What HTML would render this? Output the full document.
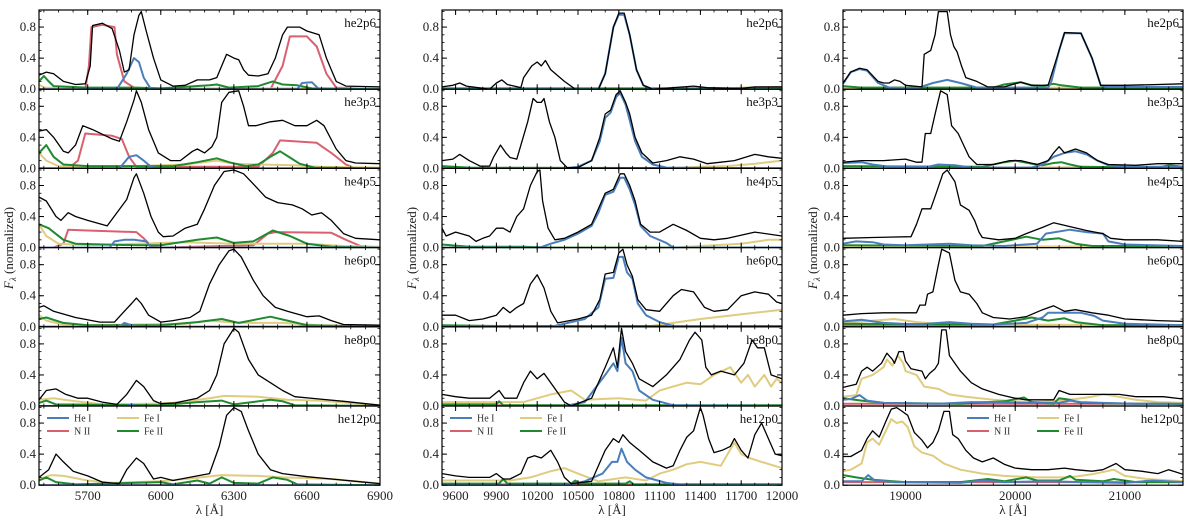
<!DOCTYPE html>
<html><head><meta charset="utf-8"><style>
html,body{margin:0;padding:0;background:#fff;}
svg{display:block;font-family:"Liberation Serif","DejaVu Serif",serif;}
</style></head><body>
<svg id="chart" width="1200" height="520" viewBox="0 0 1200 520" xmlns="http://www.w3.org/2000/svg"></svg>
<script>
// ---- data ----
const models = ["he2p6","he3p3","he4p5","he6p0","he8p0","he12p0"];
const colRanges = [[5500,6900],[9500,12000],[18430,21530]];
const colTicks = [[5700,6000,6300,6600,6900],[9600,9900,10200,10500,10800,11100,11400,11700,12000],[19000,20000,21000]];
const yTicks = [0.0,0.4,0.8];
const seriesNames = ["black","He I","N II","Fe I","Fe II"];
// col 1
const c1black = [
[[5500,.18],[5530,.22],[5560,.2],[5600,.1],[5650,.06],[5690,.07],[5710,.3],[5720,.82],[5760,.85],[5800,.78],[5830,.5],[5850,.22],[5870,.25],[5890,.7],[5910,.95],[5920,1.0],[5940,.75],[5970,.4],[6000,.12],[6050,.04],[6100,.05],[6150,.12],[6200,.12],[6230,.15],[6250,.3],[6270,.45],[6300,.4],[6320,.38],[6340,.25],[6360,.18],[6400,.17],[6440,.2],[6470,.4],[6500,.7],[6520,.8],[6570,.8],[6600,.75],[6650,.7],[6680,.4],[6720,.1],[6760,.04],[6900,.03]],
[[5500,.48],[5530,.5],[5560,.4],[5600,.22],[5620,.2],[5650,.3],[5680,.55],[5720,.5],[5800,.38],[5830,.35],[5860,.6],[5890,.88],[5900,1.0],[5920,.85],[5950,.5],[5990,.2],[6040,.1],[6080,.1],[6130,.22],[6150,.25],[6180,.2],[6210,.28],[6230,.4],[6250,.85],[6280,.98],[6320,1.0],[6340,.8],[6360,.55],[6390,.55],[6450,.6],[6500,.62],[6550,.55],[6600,.55],[6640,.62],[6670,.55],[6720,.25],[6760,.1],[6800,.07],[6900,.06]],
[[5500,.65],[5530,.6],[5570,.4],[5590,.35],[5620,.45],[5650,.4],[5700,.35],[5780,.28],[5820,.45],[5860,.62],[5890,.9],[5900,.95],[5930,.7],[5960,.4],[5990,.2],[6010,.14],[6050,.15],[6100,.25],[6150,.3],[6180,.5],[6220,.8],[6260,.98],[6300,1.0],[6340,.95],[6380,.82],[6430,.65],[6480,.58],[6540,.55],[6580,.5],[6620,.42],[6660,.45],[6700,.35],[6750,.18],[6800,.12],[6900,.1]],
[[5500,.25],[5520,.27],[5560,.2],[5650,.12],[5750,.06],[5810,.06],[5850,.2],[5880,.3],[5900,.37],[5920,.3],[5950,.15],[6000,.06],[6050,.08],[6120,.12],[6160,.2],[6200,.55],[6240,.8],[6280,.98],[6300,1.0],[6330,.9],[6380,.6],[6420,.4],[6470,.25],[6520,.2],[6600,.13],[6650,.14],[6700,.08],[6750,.03],[6900,.02]],
[[5500,.08],[5530,.2],[5570,.22],[5610,.15],[5660,.1],[5700,.1],[5760,.05],[5820,.02],[5860,.15],[5900,.33],[5930,.25],[5970,.07],[6000,.03],[6060,.04],[6150,.1],[6200,.2],[6230,.4],[6260,.8],[6280,.9],[6300,1.0],[6320,.95],[6360,.6],[6400,.4],[6450,.3],[6500,.2],[6550,.12],[6650,.09],[6750,.06],[6900,.01]],
[[5500,.1],[5540,.2],[5570,.4],[5600,.3],[5640,.18],[5700,.12],[5760,.04],[5830,.02],[5860,.2],[5900,.35],[5930,.28],[5970,.08],[6000,.1],[6050,.06],[6150,.12],[6200,.15],[6240,.5],[6270,.9],[6300,1.0],[6330,.95],[6360,.7],[6400,.4],[6450,.2],[6500,.15],[6600,.11],[6700,.08],[6800,.05],[6900,.02]]];
const c1he = [
[[5500,0],[5820,0],[5860,.2],[5890,.4],[5910,.35],[5930,.15],[5960,0],[6560,0],[6580,.08],[6620,.09],[6650,0],[6900,0]],
[[5500,0],[5830,0],[5870,.15],[5900,.17],[5930,.1],[5960,.02],[6000,0],[6900,0]],
[[5500,0],[5790,0],[5810,.08],[5850,.1],[5890,.1],[5940,.08],[5960,0],[6900,0]],
[[5500,0],[5830,0],[5850,.05],[5880,.02],[5900,0],[6900,0]],
[[5500,0],[5860,0],[5880,.02],[5900,0],[6900,0]],
[[5500,0],[6900,0]]];
const c1n = [
[[5500,0],[5690,0],[5705,.3],[5715,.8],[5760,.83],[5810,.8],[5820,.45],[5850,.1],[5900,0],[6450,0],[6500,.3],[6530,.68],[6600,.68],[6640,.55],[6680,.2],[6720,.02],[6900,0]],
[[5500,0],[5620,0],[5660,.1],[5690,.45],[5800,.42],[5840,.38],[5870,.15],[5900,.02],[6400,.02],[6460,.2],[6490,.36],[6640,.33],[6700,.2],[6760,.05],[6800,0],[6900,0]],
[[5500,0],[5560,0],[5600,.05],[5620,.23],[5700,.22],[5900,.2],[5930,.12],[5960,.02],[6000,0],[6380,.03],[6440,.18],[6470,.2],[6700,.19],[6760,.1],[6820,.02],[6900,0]],
[[5500,0],[6550,0],[6620,.02],[6700,0],[6900,0]],
[[5500,0],[6900,0]],
[[5500,0],[6900,0]]];
const c1fe1 = [
[[5500,.06],[5520,.02],[5600,.01],[6900,.01]],
[[5500,.2],[5530,.1],[5580,.03],[5700,.01],[6100,.05],[6230,.1],[6300,.06],[6400,.05],[6550,.04],[6650,.02],[6900,.01]],
[[5500,.3],[5530,.15],[5580,.05],[5700,.03],[6100,.07],[6300,.05],[6600,.05],[6750,.02],[6900,.01]],
[[5500,.15],[5530,.08],[5600,.03],[5700,.02],[6100,.04],[6200,.08],[6320,.05],[6500,.05],[6650,.02],[6900,.01]],
[[5500,.08],[5560,.1],[5650,.06],[5760,.02],[5950,.03],[6050,.04],[6200,.1],[6260,.13],[6400,.12],[6520,.08],[6650,.07],[6900,.01]],
[[5500,.08],[5550,.13],[5600,.12],[5700,.06],[5800,.03],[6000,.05],[6100,.08],[6250,.13],[6400,.12],[6500,.1],[6700,.08],[6900,.02]]];
const c1fe2 = [
[[5500,.1],[5520,.17],[5540,.1],[5560,.04],[5700,.02],[5900,.02],[6000,.01],[6200,.05],[6230,.06],[6280,.02],[6400,.04],[6460,.1],[6500,.06],[6560,.05],[6620,.01],[6900,0]],
[[5500,.2],[5530,.3],[5560,.15],[5600,.05],[5700,.03],[5900,.03],[6050,.03],[6150,.08],[6230,.13],[6280,.08],[6350,.03],[6400,.05],[6450,.15],[6490,.22],[6530,.14],[6570,.06],[6630,.01],[6900,0]],
[[5500,.3],[5540,.25],[5600,.1],[5650,.05],[5900,.03],[6000,.03],[6150,.1],[6230,.13],[6300,.06],[6380,.08],[6460,.22],[6530,.15],[6600,.05],[6700,.01],[6900,0]],
[[5500,.1],[5530,.12],[5600,.05],[5700,.02],[6000,.02],[6150,.06],[6250,.1],[6320,.05],[6450,.13],[6520,.08],[6600,.02],[6900,0]],
[[5500,.04],[5530,.07],[5570,.02],[6000,.01],[6150,.05],[6250,.07],[6300,.02],[6450,.08],[6500,.06],[6550,.01],[6900,0]],
[[5500,.06],[5530,.1],[5570,.04],[5650,.01],[6000,.04],[6050,.01],[6150,.06],[6200,.02],[6250,.1],[6300,.03],[6400,.02],[6460,.1],[6520,.07],[6560,.01],[6900,0]]];
// col 2
const c2black = [
[[9500,.03],[9580,.05],[9630,.08],[9680,.04],[9850,0],[9900,.08],[9940,.12],[9980,.06],[10080,.02],[10100,.15],[10160,.3],[10200,.35],[10230,.3],[10260,.37],[10300,.25],[10400,.1],[10480,0],[10650,0],[10700,.2],[10760,.8],[10800,.98],[10840,.98],[10880,.7],[10930,.25],[10980,.05],[11050,0],[11200,.02],[11350,.04],[11450,.02],[11700,.01],[11800,.03],[12000,.03]],
[[9500,.1],[9580,.12],[9630,.18],[9700,.1],[9780,.03],[9850,.03],[9880,.15],[9930,.3],[9970,.2],[10000,.14],[10050,.12],[10080,.3],[10130,.6],[10170,.9],[10200,.85],[10230,.85],[10250,.9],[10290,.6],[10330,.4],[10370,.1],[10420,.01],[10500,.01],[10600,.1],[10660,.4],[10700,.7],[10740,.75],[10780,.95],[10810,1.0],[10850,.85],[10880,.7],[10920,.4],[10970,.2],[11050,.07],[11150,.1],[11250,.15],[11350,.12],[11450,.06],[11550,.08],[11650,.1],[11800,.18],[11900,.15],[12000,.13]],
[[9500,.25],[9530,.15],[9600,.2],[9700,.15],[9750,.08],[9800,.12],[9850,.15],[9900,.25],[9950,.25],[10000,.2],[10050,.4],[10100,.5],[10150,.8],[10200,.98],[10220,1.0],[10240,.6],[10280,.25],[10330,.1],[10400,.12],[10500,.2],[10600,.3],[10650,.5],[10700,.7],[10760,.75],[10810,.95],[10840,.95],[10880,.8],[10920,.6],[10960,.3],[11030,.2],[11100,.2],[11200,.3],[11300,.22],[11400,.12],[11500,.1],[11600,.12],[11800,.2],[12000,.15]],
[[9500,.15],[9600,.15],[9700,.08],[9800,.1],[9900,.15],[9950,.25],[10000,.18],[10050,.25],[10100,.3],[10150,.55],[10200,.67],[10250,.5],[10300,.2],[10350,.05],[10500,.1],[10600,.15],[10660,.35],[10700,.68],[10760,.7],[10800,.95],[10830,1.0],[10860,.8],[10900,.65],[10940,.35],[11000,.22],[11100,.2],[11200,.4],[11260,.48],[11350,.45],[11430,.25],[11500,.2],[11600,.22],[11700,.4],[11800,.45],[11900,.42],[11960,.32],[12000,.3]],
[[9500,.15],[9600,.12],[9700,.1],[9850,.1],[9920,.2],[9960,.1],[10050,.1],[10100,.3],[10150,.45],[10200,.35],[10250,.42],[10320,.25],[10400,.05],[10450,0],[10600,.1],[10700,.5],[10760,.75],[10790,.5],[10820,1.0],[10850,.7],[10900,.55],[10950,.35],[11050,.25],[11150,.4],[11250,.6],[11320,.85],[11360,.95],[11410,.85],[11440,.5],[11480,.4],[11550,.45],[11650,.4],[11720,.55],[11780,.85],[11820,.75],[11870,.75],[11920,.4],[12000,.35]],
[[9500,.15],[9600,.12],[9700,.1],[9850,.1],[9900,.15],[9950,.08],[10000,.08],[10080,.15],[10130,.35],[10180,.38],[10230,.35],[10300,.45],[10350,.3],[10400,.1],[10450,.02],[10600,.05],[10700,.45],[10760,.6],[10800,.55],[10830,.65],[10880,.55],[10950,.45],[11050,.3],[11150,.22],[11200,.25],[11250,.45],[11300,.62],[11350,.7],[11400,1.0],[11420,.9],[11460,.6],[11500,.42],[11560,.45],[11620,.5],[11650,.6],[11700,.45],[11750,.35],[11800,.65],[11850,.8],[11900,.6],[11950,.4],[12000,.38]]];
const c2he = [
[[9500,0],[10650,0],[10700,.2],[10760,.8],[10800,.96],[10840,.96],[10880,.7],[10930,.25],[10980,.05],[11050,0],[12000,0]],
[[9500,0],[10400,0],[10500,.02],[10600,.1],[10660,.35],[10700,.65],[10740,.72],[10780,.92],[10810,.97],[10850,.82],[10880,.62],[10920,.35],[10970,.15],[11050,.05],[11150,.01],[12000,0]],
[[9500,0],[10220,0],[10300,.05],[10400,.1],[10500,.18],[10600,.28],[10650,.45],[10700,.68],[10760,.72],[10810,.9],[10840,.9],[10880,.75],[10920,.55],[10960,.28],[11030,.15],[11150,.06],[11200,0],[12000,0]],
[[9500,0],[10300,0],[10400,.04],[10550,.1],[10650,.25],[10700,.62],[10760,.63],[10800,.9],[10830,.9],[10860,.7],[10900,.62],[10940,.3],[11000,.15],[11100,.06],[11200,.01],[12000,0]],
[[9500,0],[10400,0],[10550,.05],[10700,.4],[10760,.55],[10790,.45],[10820,.88],[10850,.55],[10900,.45],[10950,.2],[11050,.08],[11200,.01],[12000,0]],
[[9500,0],[10400,0],[10550,.05],[10680,.15],[10750,.3],[10790,.3],[10820,.47],[10860,.3],[10920,.2],[11000,.1],[11150,.03],[11300,0],[12000,0]]];
const c2n = [
[[9500,0],[12000,0]],[[9500,0],[12000,0]],[[9500,0],[12000,0]],[[9500,.01],[12000,0]],[[9500,.01],[12000,0]],[[9500,.01],[12000,.01]]];
const c2fe1 = [
[[9500,0],[11600,0],[11700,.02],[12000,.03]],
[[9500,0],[11200,0],[11400,.02],[11600,.03],[11800,.06],[12000,.1]],
[[9500,0],[11200,0],[11500,.03],[11700,.05],[11900,.1],[12000,.1]],
[[9500,0],[11000,0],[11200,.05],[11400,.1],[11600,.14],[11800,.18],[11900,.2],[12000,.22]],
[[9500,.05],[10100,.05],[10300,.15],[10450,.2],[10550,.08],[10800,.1],[11000,.07],[11100,.2],[11200,.25],[11300,.3],[11400,.28],[11500,.4],[11620,.5],[11700,.3],[11750,.4],[11800,.25],[11870,.4],[11920,.25],[11960,.35],[12000,.3]],
[[9500,.06],[10000,.06],[10150,.1],[10300,.18],[10400,.22],[10500,.15],[10650,.05],[10850,.1],[11000,.06],[11100,.15],[11200,.2],[11300,.27],[11400,.3],[11550,.25],[11650,.55],[11700,.4],[11760,.35],[11850,.3],[12000,.22]]];
const c2fe2 = [
[[9500,.01],[12000,.01]],
[[9500,.03],[9700,.01],[12000,0]],
[[9500,.04],[9700,.01],[10100,.01],[10300,0],[12000,0]],
[[9500,.02],[9900,.01],[12000,.01]],
[[9500,.02],[9900,.02],[9920,.06],[9950,.01],[12000,.01]],
[[9500,.02],[9920,.02],[9950,.08],[9980,.02],[10450,.02],[10480,.06],[10510,.02],[10850,.02],[10880,.05],[10910,.01],[12000,.01]]];
// col 3
const c3black = [
[[18430,.08],[18500,.22],[18580,.27],[18650,.25],[18750,.1],[18800,.08],[18850,.08],[18900,.12],[18950,.1],[19000,.05],[19150,.03],[19170,.45],[19230,.5],[19270,.7],[19300,1.0],[19380,1.0],[19410,.7],[19440,.55],[19470,.48],[19510,.3],[19550,.15],[19650,.1],[19750,.03],[19900,.03],[20000,.07],[20050,.09],[20150,.05],[20250,.05],[20300,.05],[20400,.5],[20450,.73],[20600,.72],[20700,.4],[20780,.05],[21000,.05],[21300,.06],[21530,.07]],
[[18430,.08],[18600,.1],[18800,.1],[19000,.12],[19100,.08],[19150,.08],[19180,.45],[19230,.45],[19270,.7],[19320,1.0],[19380,.95],[19420,.55],[19480,.45],[19530,.3],[19580,.15],[19650,.05],[19800,.05],[19950,.1],[20050,.1],[20200,.05],[20300,.1],[20350,.2],[20400,.28],[20450,.2],[20550,.25],[20650,.2],[20750,.1],[20850,.05],[21100,.04],[21300,.06],[21530,.06]],
[[18430,.12],[18700,.13],[19050,.14],[19100,.3],[19150,.5],[19230,.5],[19280,.7],[19340,.95],[19380,1.0],[19450,.85],[19500,.55],[19580,.48],[19630,.35],[19670,.2],[19700,.13],[19850,.1],[20000,.12],[20100,.18],[20250,.26],[20350,.32],[20500,.27],[20650,.22],[20800,.18],[20870,.12],[21000,.1],[21300,.1],[21530,.08]],
[[18430,.15],[18600,.17],[18800,.18],[18950,.18],[19100,.18],[19130,.28],[19180,.28],[19200,.42],[19250,.45],[19300,.8],[19330,1.0],[19400,.95],[19450,.6],[19500,.45],[19580,.42],[19650,.3],[19700,.18],[19800,.12],[19950,.1],[20100,.13],[20250,.22],[20350,.27],[20450,.2],[20550,.22],[20700,.18],[20850,.15],[21000,.1],[21300,.08],[21530,.07]],
[[18430,.24],[18550,.28],[18600,.45],[18650,.5],[18700,.45],[18780,.55],[18830,.68],[18880,.6],[18900,.55],[18940,.7],[18980,.7],[19000,.58],[19050,.48],[19150,.45],[19180,.35],[19220,.42],[19270,.48],[19300,.55],[19330,.98],[19370,.98],[19400,.65],[19500,.45],[19600,.3],[19700,.22],[19850,.15],[20000,.1],[20100,.08],[20200,.08],[20350,.08],[20400,.2],[20500,.15],[20650,.15],[20800,.15],[20950,.15],[21100,.12],[21200,.12],[21350,.12],[21530,.09]],
[[18430,.37],[18500,.37],[18600,.45],[18650,.6],[18700,.7],[18760,.62],[18820,.82],[18870,.98],[18920,1.0],[18970,.95],[19020,.9],[19080,.68],[19150,.58],[19200,.48],[19250,.55],[19300,.7],[19350,.95],[19400,.95],[19430,.65],[19480,.6],[19550,.45],[19620,.35],[19700,.3],[19800,.35],[19900,.27],[20000,.22],[20150,.2],[20300,.2],[20450,.22],[20550,.2],[20700,.18],[20800,.2],[20920,.28],[21000,.2],[21150,.18],[21300,.15],[21400,.2],[21530,.14]]];
const c3he = [
[[18430,.07],[18500,.22],[18580,.26],[18650,.24],[18750,.08],[18850,.02],[19100,.01],[19250,.08],[19380,.12],[19500,.08],[19650,.02],[20300,.02],[20330,.1],[20400,.5],[20450,.72],[20600,.72],[20700,.4],[20780,.05],[20850,.03],[21530,.03]],
[[18430,.07],[18600,.08],[18700,.05],[18850,.02],[19200,.02],[19300,.05],[19450,.04],[19600,.01],[20150,.01],[20250,.05],[20350,.15],[20450,.2],[20550,.22],[20650,.18],[20750,.1],[20850,.04],[21000,.02],[21530,.02]],
[[18430,.05],[18550,.08],[18700,.07],[18800,.04],[19000,.03],[19400,.05],[19600,.03],[19900,.02],[20200,.05],[20280,.18],[20500,.23],[20650,.2],[20800,.18],[20850,.08],[21000,.04],[21530,.02]],
[[18430,.07],[18600,.09],[18800,.05],[19100,.03],[19400,.06],[19600,.04],[19800,.03],[20100,.05],[20250,.12],[20300,.18],[20600,.18],[20720,.14],[20800,.08],[21000,.04],[21530,.02]],
[[18430,.08],[18500,.09],[18580,.14],[18650,.07],[18800,.04],[19300,.03],[19600,.05],[19850,.05],[20100,.04],[20400,.04],[20500,.07],[20600,.05],[20800,.04],[21100,.03],[21530,.03]],
[[18430,.05],[18600,.05],[18660,.13],[18720,.06],[18900,.04],[19500,.03],[19700,.06],[19900,.04],[20300,.05],[20600,.04],[21000,.03],[21250,.06],[21530,.04]]];
const c3n = [
[[18430,0],[21530,0]],[[18430,.01],[21530,.01]],[[18430,.01],[21530,.01]],[[18430,.02],[21530,.02]],[[18430,.03],[21530,.03]],[[18430,.04],[21530,.04]]];
const c3fe1 = [
[[18430,.02],[21530,.02]],
[[18430,.01],[21530,.01]],
[[18430,.01],[21530,.01]],
[[18430,.05],[18700,.08],[18900,.1],[19100,.06],[19300,.04],[19600,.03],[21530,.02]],
[[18430,.12],[18550,.14],[18600,.35],[18700,.4],[18800,.5],[18830,.6],[18880,.52],[18930,.65],[18980,.55],[19000,.45],[19100,.4],[19170,.25],[19300,.22],[19400,.15],[19550,.12],[19800,.08],[20000,.06],[20200,.05],[20500,.08],[20700,.12],[20800,.15],[20900,.13],[21100,.08],[21300,.05],[21530,.04]],
[[18430,.18],[18500,.2],[18600,.28],[18650,.55],[18700,.6],[18760,.52],[18820,.7],[18870,.85],[18920,.8],[18970,.82],[19020,.75],[19080,.5],[19150,.42],[19250,.38],[19350,.28],[19500,.2],[19700,.15],[19900,.12],[20200,.1],[20500,.1],[20700,.14],[20900,.2],[21000,.12],[21200,.08],[21530,.05]]];
const c3fe2 = [
[[18430,.04],[18600,.02],[19800,.02],[19900,.06],[20050,.09],[20150,.05],[20250,.04],[20350,.07],[20420,.05],[20600,.02],[21530,.02]],
[[18430,.03],[19700,.02],[19900,.08],[20000,.1],[20150,.06],[20250,.04],[20350,.07],[20420,.08],[20500,.05],[20600,.02],[21300,.01],[21400,.04],[21530,.02]],
[[18430,.03],[19700,.02],[19900,.08],[20100,.14],[20250,.1],[20400,.12],[20550,.05],[20700,.02],[21530,.02]],
[[18430,.04],[19800,.03],[20000,.08],[20150,.12],[20300,.08],[20450,.11],[20550,.06],[20800,.02],[21530,.02]],
[[18430,.1],[18600,.07],[18800,.04],[19500,.03],[19900,.06],[20080,.11],[20150,.05],[20350,.03],[20400,.1],[20500,.08],[20600,.04],[21100,.03],[21400,.03],[21530,.02]],
[[18430,.13],[18550,.1],[18700,.07],[19000,.04],[19500,.04],[19750,.08],[19900,.05],[20100,.1],[20200,.06],[20400,.06],[20500,.12],[20550,.07],[20800,.05],[20900,.08],[21100,.04],[21530,.04]]];

// ---- layout ----
const NS = "http://www.w3.org/2000/svg";
const svg = document.getElementById("chart");
const colX = [[39,380],[442,782],[843,1183]];
const TOP = 10, ROWH = 79.2, YMAX = 1.02;
const COLORS = {black:"#000", he:"#4a7ebb", n:"#d9606f", fe1:"#e0cc7e", fe2:"#1f8a30"};
function mk(tag, attrs, parent){ const e=document.createElementNS(NS,tag); for(const k in attrs) e.setAttribute(k,attrs[k]); (parent||svg).appendChild(e); return e; }
function xScale(c, l){ const [a,b]=colRanges[c]; return colX[c][0]+(l-a)/(b-a)*(colX[c][1]-colX[c][0]); }
function yScale(r, v){ const bot=TOP+(r+1)*ROWH; return bot - v/YMAX*ROWH; }

const cols = [
 {black:c1black, he:c1he, n:c1n, fe1:c1fe1, fe2:c1fe2},
 {black:c2black, he:c2he, n:c2n, fe1:c2fe1, fe2:c2fe2},
 {black:c3black, he:c3he, n:c3n, fe1:c3fe1, fe2:c3fe2}];
const minorStep = [60, 100, 200];

for(let c=0;c<3;c++){
  const x0=colX[c][0], x1=colX[c][1];
  for(let r=0;r<6;r++){
    const g = mk("g",{});
    
    
    const top=TOP+r*ROWH, bot=top+ROWH;
    const clipId="clip"+c+"_"+r;
    const cp=mk("clipPath",{id:clipId},g); mk("rect",{x:x0,y:top,width:x1-x0,height:ROWH},cp);
    const sg=mk("g",{"clip-path":"url(#"+clipId+")"},g);
    for(const key of ["n","fe1","fe2","he","black"]){
      const pts=cols[c][key][r];
      const d=pts.map((p,i)=>(i?"L":"M")+xScale(c,p[0]).toFixed(1)+","+yScale(r,p[1]).toFixed(1)).join("");
      const p=mk("path",{d:d,fill:"none",stroke:COLORS[key],"stroke-width":key==="black"?1.3:2,"stroke-linejoin":"round"},sg);
      
      
    }
    const [a,b]=colRanges[c];
    for(let l=Math.ceil(a/minorStep[c])*minorStep[c]; l<=b; l+=minorStep[c]){
      const x=xScale(c,l);
      mk("line",{x1:x,x2:x,y1:bot,y2:bot-2.5,stroke:"#000","stroke-width":0.8},g);
      mk("line",{x1:x,x2:x,y1:top,y2:top+2.5,stroke:"#000","stroke-width":0.8},g);
    }
    for(const l of colTicks[c]){
      const x=xScale(c,l);
      mk("line",{x1:x,x2:x,y1:bot,y2:bot-5,stroke:"#000","stroke-width":1},g);
      mk("line",{x1:x,x2:x,y1:top,y2:top+5,stroke:"#000","stroke-width":1},g);
    }
    for(let v=0.1; v<1.0; v+=0.1){
      const y=yScale(r,v);
      mk("line",{x1:x0,x2:x0+2.5,y1:y,y2:y,stroke:"#000","stroke-width":0.8},g);
      mk("line",{x1:x1,x2:x1-2.5,y1:y,y2:y,stroke:"#000","stroke-width":0.8},g);
    }
    for(const v of yTicks){
      const y=yScale(r,v);
      mk("line",{x1:x0,x2:x0+5,y1:y,y2:y,stroke:"#000","stroke-width":1},g);
      mk("line",{x1:x1,x2:x1-5,y1:y,y2:y,stroke:"#000","stroke-width":1},g);
      const t=mk("text",{x:x0-3,y:y+4,"text-anchor":"end","font-size":13,fill:"#222"},g);
      t.textContent=v.toFixed(1);
      
      
    }
    mk("rect",{x:x0,y:top,width:x1-x0,height:ROWH,fill:"none",stroke:"#000","stroke-width":1.2},g);
    const lab=mk("text",{x:x1-4,y:top+17,"text-anchor":"end","font-size":13,fill:"#111"},g);
    lab.textContent=models[r];
    
    
  }
  const bot=TOP+6*ROWH;
  for(const l of colTicks[c]){
    const t=mk("text",{x:xScale(c,l),y:bot+15,"text-anchor":"middle","font-size":13,fill:"#222"});
    t.textContent=l;
    
    
  }
  const xt=mk("text",{x:(x0+x1)/2,y:514,"text-anchor":"middle","font-size":13,fill:"#222"});
  xt.textContent="λ [Å]";
  
  
  const yx = x0-26;
  const yt=mk("text",{x:yx,y:248,"text-anchor":"middle","font-size":13,fill:"#222",transform:"rotate(-90 "+yx+" 248)"});
  yt.innerHTML='<tspan font-style="italic">F</tspan><tspan font-size="9" font-style="italic" dy="3">λ</tspan><tspan dy="-3"> (normalized)</tspan>';
  
  
}
const legendX = [47, 450, 967];
const legendItems = [["He I","he",0,0],["Fe I","fe1",1,0],["N II","n",0,1],["Fe II","fe2",1,1]];
for(let c=0;c<3;c++){
  const lg=mk("g",{});
  
  
  for(const [name,key,cx,cy] of legendItems){
    const x=legendX[c]+cx*70, y=418+cy*13;
    mk("line",{x1:x,x2:x+22,y1:y,y2:y,stroke:COLORS[key],"stroke-width":2},lg);
    const t=mk("text",{x:x+27,y:y+3.5,"font-size":10,fill:"#333"},lg);
    t.textContent=name;
    
    
  }
}
</script>
</body></html>
